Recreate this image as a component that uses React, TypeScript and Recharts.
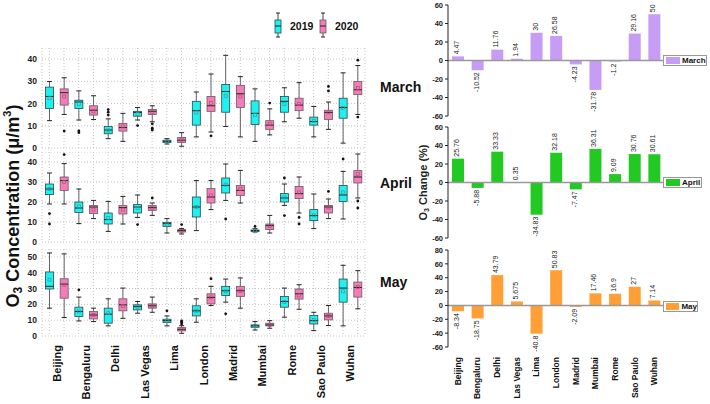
import React from "react";
import { ComposedChart, BarChart, Bar, XAxis, YAxis, CartesianGrid, ReferenceLine, LabelList } from "recharts";

const FONT = "'Liberation Sans', Arial, sans-serif";

const cities = ["Beijing", "Bengaluru", "Delhi", "Las Vegas", "Lima", "London", "Madrid", "Mumbai", "Rome", "Sao Paulo", "Wuhan"];
const years = ["2019", "2020"];

// per city, 2019 row then 2020 row: [min, q1, median, q3, max, mean]
const marchBoxes = [
  [12.3, 17.8, 23.2, 27.4, 29.9, 22.4], [15.1, 19.3, 24.9, 26.6, 31.6, 23.2],
  [12.6, 17.8, 20.7, 21.5, 25.7, 19.8], [12.8, 14.8, 17, 19, 23.5, 16.5],
  [4.2, 6.4, 8.1, 9.7, 13.1, 7.9], [3.0, 7.6, 9.2, 11.1, 15.6, 9.7],
  [12.6, 14.3, 16.0, 16.5, 18.2, 15.3], [11.8, 15.1, 16.5, 17.3, 19.0, 16.3],
  [1.8, 2.5, 3.0, 3.5, 4.2, 3.0], [0.8, 2.5, 3.5, 4.7, 6.9, 3.8],
  [5.0, 10.3, 16.8, 21, 25.2, 16], [7.2, 16.5, 19, 23.2, 33.3, 20.2],
  [9.7, 16.1, 25.4, 28.6, 41.7, 23.5], [5.0, 18.2, 24.4, 28.2, 32.1, 23.2],
  [3.0, 10.6, 15.6, 21.2, 26.6, 14.8], [5.9, 8.4, 10.3, 12.3, 17.6, 10.9],
  [11.8, 16.1, 21, 23.2, 27.1, 19.8], [13.4, 16.8, 19.3, 22.4, 29.4, 19.8],
  [5.0, 10.3, 11.9, 13.9, 18.7, 12.3], [8.4, 12.8, 16, 17, 20.7, 16],
  [2.2, 13.4, 18.2, 22.4, 33.8, 18], [15.1, 24, 26.2, 29.9, 37.1, 27],
];
const marchOutliers = [
  [], [7.6], [7.7, 6.9], [], [17.3, 16.1, 14.8], [], [10.1], [10.9, 8.9, 8.1], [], [], [], [5.5],
  [], [], [], [20.2], [], [], [], [27.7, 25.7], [], [39.5, 13.9],
];

const aprilBoxes = [
  [19, 23.7, 26.5, 29, 34.5, 26.5], [19, 25.8, 30.7, 32.5, 39.2, 30],
  [9.2, 14.8, 17, 20, 26.5, 17.8], [11.7, 14.2, 17.5, 18.2, 20.8, 16.2],
  [5.3, 9, 11.2, 14.5, 20.3, 12], [9, 14, 17.2, 18.2, 22.8, 16.2],
  [12.3, 14.5, 17.5, 18.7, 23.5, 17], [13.3, 15.8, 17.2, 18.2, 19.5, 17.2],
  [4.5, 7.8, 9.2, 9.8, 11.7, 8.7], [4, 5, 5.7, 6.2, 6.7, 5.5],
  [5.7, 12.5, 17.5, 22.5, 30.7, 17.5], [16.2, 19.5, 22.5, 26.7, 30.7, 23.3],
  [20.8, 24.5, 28.3, 32, 39, 28.7], [19.5, 23.3, 25.8, 28.3, 35.8, 26.5],
  [5, 5.3, 5.7, 6, 6.7, 5.7], [4.5, 6.2, 8.2, 9, 13.3, 8],
  [18.3, 20, 22, 24.2, 29, 22.3], [14.5, 21.7, 24.2, 27.8, 32.5, 24.8],
  [6.7, 10.7, 13.2, 16.2, 24, 13.3], [11.7, 14.5, 17.5, 18.3, 21.5, 17.3],
  [11.5, 20.3, 23.5, 28.3, 35.3, 24.8], [22, 29.5, 32.5, 35.7, 44, 34],
];
const aprilOutliers = [
  [14.2, 9], [43.7], [], [], [], [], [8.7], [22], [], [8.7], [], [],
  [11.5], [], [7.8], [], [32, 13.2], [12.3, 9], [], [25.3], [41.5], [20.5, 17],
];

const mayBoxes = [
  [17.6, 29.7, 31.4, 40.5, 52.5, 35.6], [11.7, 23.9, 32.8, 36.2, 51.9, 32.4],
  [9.5, 12.3, 15.5, 18.2, 24.6, 15.5], [9.1, 10.8, 13.3, 15.5, 17.6, 13.4],
  [6.4, 8.1, 13.8, 17.6, 23.5, 14.4], [11.2, 15.9, 19.7, 23.5, 30.3, 19],
  [14.4, 16.5, 18.6, 19.7, 21.8, 18.5], [15, 17.6, 19.1, 20.3, 24.6, 19],
  [6.4, 8.5, 9.7, 10.6, 12.7, 9.7], [1.7, 3.2, 4.2, 5.3, 6.5, 4.4],
  [8.7, 12.7, 15.9, 19.1, 23.5, 16], [19.3, 20.3, 24.4, 26.7, 31.4, 24.4],
  [21.4, 25.6, 28.6, 31.4, 36, 28.2], [17.6, 25, 28.6, 31.4, 36.7, 28.6],
  [3.8, 5.5, 6.4, 7, 9.1, 6.3], [4.9, 6.4, 7, 8.1, 9.7, 7],
  [11.9, 18.2, 21.8, 25, 30.3, 21.4], [16.9, 23.3, 26.7, 29.7, 32.4, 25.6],
  [3.4, 7.6, 9.7, 12.9, 15, 10.2], [6.6, 10.2, 12.7, 14.4, 19.3, 12.7],
  [6.4, 21.4, 30.3, 36, 44.7, 28.2], [17.2, 24.6, 30.7, 34.1, 41.3, 31],
];
const mayOutliers = [
  [], [], [29.2], [], [], [], [], [], [15.9], [9.5, 8.7, 7.6], [], [36.2],
  [14], [], [], [], [], [], [], [], [], [],
];

const marchChange = [4.47, -10.52, 11.76, 1.94, 30, 26.58, -4.23, -31.78, -1.2, 29.16, 50];
const aprilChange = [25.76, -5.88, 33.33, 0.35, -34.83, 32.18, -7.47, 36.31, 9.09, 30.76, 30.61];
const mayChange = [-8.34, -18.75, 43.79, 5.675, -40.8, 50.83, -2.09, 17.46, 16.9, 27, 7.14];

const concTicks = [0, 10, 20, 30, 40];
const mayConcTicks = [0, 10, 20, 30, 40, 50];
const changeTicks = [-60, -40, -20, 0, 20, 40, 60];
const mayChangeTicks = [-60, -40, -20, 0, 20, 40, 60, 80];

const BOX_COLORS = ["#1ff0f0", "#f47db8"];
const BOX_EDGES = ["#2a4a4a", "#6a5a62"];
const MEAN_COLORS = ["#3a9c9c", "#b0507a"];

const LEFT_W = 370;
const LEFT_AXIS = 42;
const LEFT_RIGHT = 5;
const HALF_BAND = (LEFT_W - LEFT_AXIS - LEFT_RIGHT) / 22 / 2;

function buildRows(boxes: number[][], outliers: number[][]) {
  return boxes.map((s, i) => ({
    key: cities[Math.floor(i / 2)] + "|" + years[i % 2],
    yearIdx: i % 2,
    range: [s[0], s[4]],
    stats: s,
    outliers: outliers[i],
  }));
}

function BoxShape(props: any) {
  const { x, y, width, height, payload } = props;
  const [min, q1, med, q3, max, mean] = payload.stats;
  const top = Math.min(y, y + height);
  const bot = Math.max(y, y + height);
  const py = (v: number) => bot - ((v - min) / (max - min)) * (bot - top);
  const cx = x + width / 2;
  const bw = 8;
  const yi = payload.yearIdx;
  return (
    <g>
      <line x1={cx} x2={cx} y1={py(max)} y2={py(q3)} stroke="#666" strokeWidth={1} />
      <line x1={cx} x2={cx} y1={py(q1)} y2={py(min)} stroke="#666" strokeWidth={1} />
      <line x1={cx - 2.5} x2={cx + 2.5} y1={py(max)} y2={py(max)} stroke="#222" strokeWidth={1} />
      <line x1={cx - 2.5} x2={cx + 2.5} y1={py(min)} y2={py(min)} stroke="#222" strokeWidth={1} />
      <rect x={cx - bw / 2} y={py(q3)} width={bw} height={Math.max(py(q1) - py(q3), 1)} fill={BOX_COLORS[yi]} stroke={BOX_EDGES[yi]} strokeWidth={0.8} />
      <line x1={cx - bw / 2} x2={cx + bw / 2} y1={py(med)} y2={py(med)} stroke="#222" strokeWidth={1} />
      <rect x={cx - 1.5} y={py(mean) - 1.5} width={3} height={3} fill="none" stroke={MEAN_COLORS[yi]} strokeWidth={0.7} />
      {payload.outliers.map((o: number, k: number) => (
        <circle key={k} cx={cx} cy={py(o)} r={1.4} fill="#111" />
      ))}
    </g>
  );
}

function CityTick(props: any) {
  const { x, y, payload, index } = props;
  if (index % 2 !== 0) return <g />;
  const city = String(payload.value).split("|")[0];
  return (
    <text
      transform={`translate(${x + HALF_BAND},${y + 1}) rotate(-90)`}
      textAnchor="end"
      dominantBaseline="central"
      fontSize={11}
      fontWeight="bold"
      fontFamily={FONT}
      fill="#111"
    >
      {city}
    </text>
  );
}

function BoxRow(props: any) {
  const { boxes, outliers, ticks, domain, top, height, showCities } = props;
  const data = buildRows(boxes, outliers);
  return (
    <div style={{ position: "absolute", left: 0, top }}>
      <ComposedChart width={LEFT_W} height={height} data={data} margin={{ top: 0, right: LEFT_RIGHT, bottom: showCities ? 0 : 5, left: 0 }}>
        <CartesianGrid stroke="#c4c4c4" strokeDasharray="1 2" />
        <XAxis
          dataKey="key"
          interval={0}
          hide={!showCities}
          height={showCities ? 70 : 0}
          axisLine={false}
          tickLine={false}
          tick={<CityTick />}
        />
        <YAxis
          width={LEFT_AXIS}
          domain={domain}
          ticks={ticks}
          interval={0}
          axisLine={false}
          tickLine={false}
          tickSize={3}
          tickMargin={2}
          tick={{ fontSize: 8.5, fontWeight: "bold", fill: "#222", fontFamily: FONT }}
        />
        <Bar dataKey="range" barSize={9} shape={BoxShape} isAnimationActive={false} />
      </ComposedChart>
    </div>
  );
}

function ValueLabel(props: any) {
  const { x, y, width, height, value } = props;
  const cx = x + width / 2 - 1.5;
  const top = Math.min(y, y + height);
  const bot = Math.max(y, y + height);
  const pos = value >= 0;
  return (
    <text
      transform={`translate(${cx},${pos ? top - 2 : bot + 2}) rotate(-90)`}
      textAnchor={pos ? "start" : "end"}
      dominantBaseline="central"
      fontSize={7}
      fontFamily={FONT}
      fill="#222"
    >
      {value}
    </text>
  );
}

function RightCityTick(props: any) {
  const { x, y, payload } = props;
  return (
    <text
      transform={`translate(${x},${y + 2}) rotate(-90)`}
      textAnchor="end"
      dominantBaseline="central"
      fontSize={8.5}
      fontWeight="bold"
      fontFamily={FONT}
      fill="#111"
    >
      {payload.value}
    </text>
  );
}

function ChangeTitle(props: any) {
  const vb = props.viewBox || {};
  const cx = 423 - 400;
  const cy = vb.y + vb.height / 2;
  return (
    <text transform={`translate(${cx},${cy}) rotate(-90)`} textAnchor="middle" dominantBaseline="central" fontSize={11} fontWeight="bold" fontFamily={FONT} fill="#222">
      O<tspan fontSize={7} dy={3}>3</tspan>
      <tspan dy={-3}> Change (%)</tspan>
    </text>
  );
}

function ChangeChart(props: any) {
  const { values, color, name, top, height, domain, ticks, showCities, showTitle, legendTop, legendW } = props;
  const data = cities.map((c, i) => ({ city: c, v: values[i] }));
  return (
    <div style={{ position: "absolute", left: 400, top }}>
      <BarChart width={310} height={height} data={data} margin={{ top: 5, right: 46, bottom: showCities ? 2 : 6, left: 0 }}>
        <XAxis
          dataKey="city"
          interval={0}
          hide={!showCities}
          height={showCities ? 55 : 0}
          axisLine={false}
          tickLine={false}
          tick={<RightCityTick />}
        />
        <YAxis
          width={48}
          domain={domain}
          ticks={ticks}
          interval={0}
          axisLine={{ stroke: "#222" }}
          tickLine={{ stroke: "#222" }}
          tickSize={3}
          tickMargin={2}
          tick={{ fontSize: 7.5, fontWeight: "bold", fill: "#222", fontFamily: FONT }}
          label={showTitle ? <ChangeTitle /> : undefined}
        />
        <ReferenceLine y={0} stroke="#999" strokeWidth={1.5} />
        <Bar dataKey="v" fill={color} barSize={12} isAnimationActive={false}>
          <LabelList dataKey="v" content={ValueLabel} />
        </Bar>
      </BarChart>
      <div
        style={{
          position: "absolute",
          left: 263,
          top: legendTop,
          width: legendW,
          height: 11,
          border: "1px solid #999",
          background: "#fff",
          display: "flex",
          alignItems: "center",
          fontFamily: FONT,
          fontSize: 8,
          fontWeight: "bold",
          color: "#111",
          boxSizing: "border-box",
        }}
      >
        <span style={{ display: "inline-block", width: 14, height: 7, background: color, marginLeft: 2, marginRight: 2 }} />
        {name}
      </div>
    </div>
  );
}

function MonthLabel({ text, top }: { text: string; top: number }) {
  return (
    <div style={{ position: "absolute", left: 380, top, fontFamily: FONT, fontSize: 14, fontWeight: "bold", color: "#111", lineHeight: "16px" }}>
      {text}
    </div>
  );
}

export default function App() {
  return (
    <div style={{ position: "absolute", left: 0, top: 0, width: 710, height: 404, background: "#fff", overflow: "hidden" }}>
      <svg width={110} height={40} style={{ position: "absolute", left: 265, top: 5 }}>
        {years.map((yr, i) => {
          const cx = 13 + i * 45;
          return (
            <g key={yr}>
              <line x1={cx} x2={cx} y1={8} y2={32} stroke="#444" />
              <line x1={cx - 2} x2={cx + 2} y1={8} y2={8} stroke="#222" />
              <line x1={cx - 2} x2={cx + 2} y1={32} y2={32} stroke="#222" />
              <rect x={cx - 3} y={15} width={6} height={13} fill={BOX_COLORS[i]} stroke={BOX_EDGES[i]} strokeWidth={0.8} />
              <line x1={cx - 3} x2={cx + 3} y1={21} y2={21} stroke="#222" />
              <text x={cx + 12} y={21} dominantBaseline="central" fontSize={10.5} fontWeight="bold" fontFamily={FONT} fill="#111">
                {yr}
              </text>
            </g>
          );
        })}
      </svg>
      <svg width={30} height={404} style={{ position: "absolute", left: 0, top: 0 }}>
        <text transform="translate(13,206) rotate(-90)" textAnchor="middle" dominantBaseline="central" fontSize={18} fontWeight="bold" fontFamily={FONT} fill="#111">
          O<tspan fontSize={12} dy={5}>3</tspan>
          <tspan dy={-5}> Concentration (μ/m</tspan>
          <tspan fontSize={11} dy={-6}>3</tspan>
          <tspan dy={6}>)</tspan>
        </text>
      </svg>
      <BoxRow boxes={marchBoxes} outliers={marchOutliers} ticks={concTicks} domain={[0, 45]} top={48} height={105} />
      <BoxRow boxes={aprilBoxes} outliers={aprilOutliers} ticks={concTicks} domain={[0, 45]} top={152} height={95} />
      <BoxRow boxes={mayBoxes} outliers={mayOutliers} ticks={mayConcTicks} domain={[0, 55]} top={249} height={157} showCities />
      <MonthLabel text="March" top={79} />
      <MonthLabel text="April" top={175} />
      <MonthLabel text="May" top={274} />
      <ChangeChart values={marchChange} color="#c69cf4" name="March" top={0} height={122} domain={[-60, 60]} ticks={changeTicks} legendTop={55} legendW={44} />
      <ChangeChart values={aprilChange} color="#22c922" name="April" top={122} height={122} domain={[-60, 60]} ticks={changeTicks} showTitle legendTop={55} legendW={39} />
      <ChangeChart values={mayChange} color="#ff9f36" name="May" top={245} height={159} domain={[-60, 80]} ticks={mayChangeTicks} showCities legendTop={56} legendW={35} />
    </div>
  );
}
